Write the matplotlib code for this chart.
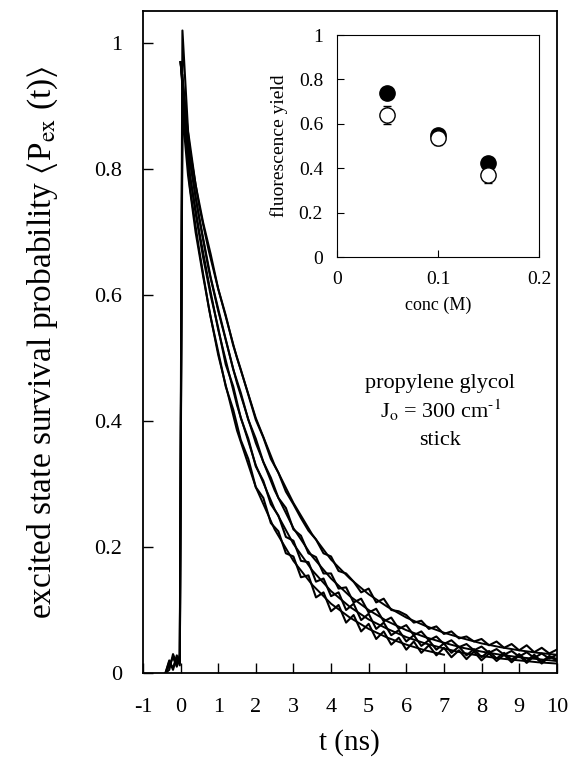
import numpy as np
import matplotlib
matplotlib.use("Agg")
import matplotlib.pyplot as plt

plt.rcParams['font.family'] = ['Liberation Serif', 'DejaVu Serif']
plt.rcParams['mathtext.fontset'] = 'stix'

# fitted (smooth) decay curves, t in ns
t_fit = [0.0, 0.25, 0.5, 0.75, 1.0, 1.5, 2.0, 2.5, 3.0, 3.5, 4.0, 4.5, 5.0,
         5.5, 6.0, 6.5, 7.0, 7.5, 8.0, 8.5, 9.0, 9.5, 10.0]
fit_a = [0.97, 0.83, 0.74, 0.67, 0.61, 0.50, 0.405, 0.33, 0.27, 0.22, 0.18, 0.15,
         0.125, 0.105, 0.088, 0.075, 0.064, 0.055, 0.047, 0.041, 0.036, 0.032, 0.029]
fit_b = [0.97, 0.81, 0.72, 0.64, 0.575, 0.46, 0.365, 0.29, 0.23, 0.185, 0.15, 0.122,
         0.10, 0.082, 0.068, 0.057, 0.048, 0.040, 0.034, 0.029, 0.025, 0.022, 0.019]
fit_c = [0.97, 0.79, 0.70, 0.62, 0.545, 0.425, 0.33, 0.26, 0.205, 0.163, 0.13, 0.105,
         0.085, 0.07, 0.057, 0.047, 0.039, 0.032, 0.027, 0.023, 0.020, 0.017, 0.015]
fit_d = [0.97, 0.77, 0.67, 0.58, 0.505, 0.385, 0.295, 0.228, 0.178, 0.14, 0.11, 0.088,
         0.07, 0.056, 0.045, 0.036, 0.029]

# measured (noisy) decays
t_data = [-0.4, -0.3, -0.2, -0.1, -0.02, 0.05,
          0.2, 0.4, 0.6, 0.8, 1.0, 1.2, 1.4, 1.6, 1.8, 2.0,
          2.2, 2.4, 2.6, 2.8, 3.0, 3.2, 3.4, 3.6, 3.8, 4.0,
          4.2, 4.4, 4.6, 4.8, 5.0, 5.2, 5.4, 5.6, 5.8, 6.0,
          6.2, 6.4, 6.6, 6.8, 7.0, 7.2, 7.4, 7.6, 7.8, 8.0,
          8.2, 8.4, 8.6, 8.8, 9.0, 9.2, 9.4, 9.6, 9.8, 10.0]
data_a = [0.0, 0.012, 0.025, 0.01, 0.03, 1.02,
          0.86, 0.775, 0.715, 0.665, 0.61, 0.568, 0.52, 0.482, 0.442, 0.402,
          0.374, 0.34, 0.318, 0.288, 0.268, 0.246, 0.226, 0.212, 0.19, 0.185,
          0.162, 0.158, 0.145, 0.128, 0.134, 0.112, 0.118, 0.1, 0.098, 0.092,
          0.08, 0.083, 0.07, 0.074, 0.062, 0.066, 0.055, 0.058, 0.05, 0.054,
          0.044, 0.05, 0.04, 0.046, 0.036, 0.044, 0.033, 0.04, 0.031, 0.037]
data_b = [0.0, 0.02, 0.005, 0.028, 0.015, 0.95,
          0.84, 0.755, 0.69, 0.628, 0.578, 0.53, 0.482, 0.445, 0.402, 0.372,
          0.335, 0.31, 0.278, 0.262, 0.228, 0.218, 0.19, 0.184, 0.158, 0.158,
          0.134, 0.136, 0.112, 0.118, 0.096, 0.102, 0.082, 0.088, 0.07, 0.076,
          0.06, 0.066, 0.052, 0.058, 0.046, 0.052, 0.041, 0.046, 0.036, 0.042,
          0.032, 0.038, 0.029, 0.035, 0.026, 0.033, 0.024, 0.031, 0.023, 0.029]
data_c = [0.0, 0.005, 0.03, 0.015, 0.02, 0.92,
          0.81, 0.73, 0.66, 0.6, 0.548, 0.49, 0.455, 0.405, 0.372, 0.328,
          0.305, 0.268, 0.25, 0.216, 0.21, 0.178, 0.176, 0.145, 0.15, 0.122,
          0.128, 0.1, 0.11, 0.084, 0.094, 0.07, 0.08, 0.06, 0.068, 0.05,
          0.06, 0.043, 0.052, 0.037, 0.047, 0.032, 0.042, 0.028, 0.038, 0.025,
          0.035, 0.023, 0.032, 0.021, 0.03, 0.019, 0.029, 0.018, 0.027, 0.022]
data_d = [0.0, 0.018, 0.008, 0.025, 0.012, 0.89,
          0.79, 0.70, 0.63, 0.565, 0.51, 0.455, 0.418, 0.37, 0.34, 0.295,
          0.278, 0.238, 0.225, 0.19, 0.185, 0.152, 0.155, 0.12, 0.128, 0.098,
          0.108, 0.08, 0.092, 0.066, 0.078, 0.054, 0.066, 0.045, 0.056, 0.037,
          0.05, 0.032, 0.044, 0.028, 0.04, 0.025, 0.036, 0.022, 0.034, 0.02,
          0.031, 0.019, 0.029, 0.017, 0.028, 0.016, 0.027, 0.015, 0.026, 0.02]

# inset: fluorescence yield vs concentration
conc = [0.05, 0.10, 0.15]
yield_filled = [0.74, 0.55, 0.425]
yield_open = [0.64, 0.535, 0.37]
yield_open_err = [0.04, 0.03, 0.035]

fig = plt.figure(figsize=(5.74, 7.62), dpi=100)
ax = fig.add_axes([0.249, 0.1168, 0.721, 0.8688])

for y in (data_a, data_b, data_c, data_d):
    ax.plot(t_data, y, color='black', lw=1.5)
ax.plot(t_fit, fit_a, color='black', lw=1.4)
ax.plot(t_fit, fit_b, color='black', lw=1.4)
ax.plot(t_fit, fit_c, color='black', lw=1.4)
ax.plot(t_fit[:len(fit_d)], fit_d, color='black', lw=1.4)

ax.set_xlim(-1, 10)
ax.set_ylim(0, 1.051)
ax.set_xticks(range(-1, 11))
ax.set_xticklabels([str(v) for v in range(-1, 11)])
ax.set_yticks([0, 0.2, 0.4, 0.6, 0.8, 1.0])
ax.set_yticklabels(['0', '0.2', '0.4', '0.6', '0.8', '1'])
ax.tick_params(direction='in', length=7, width=1, labelsize=16)
ax.tick_params(axis='y', pad=15)
ax.tick_params(axis='x', pad=18)
for s in ax.spines.values():
    s.set_linewidth(1.3)
ax.set_xlabel('t (ns)', fontsize=21, labelpad=9)
ax.set_ylabel(r'excited state survival probability $\langle$P$_{\rm ex}$ (t)$\rangle$',
              fontsize=24)
ax.yaxis.set_label_coords(-0.2, 0.5)

ax.text(6.9, 0.452, 'propylene glycol', fontsize=16, ha='center')
ax.text(6.9, 0.405, r'J$_{\rm o}$ = 300 cm$^{\text{-1}}$', fontsize=16, ha='center')
ax.text(6.9, 0.362, 'stick', fontsize=16, ha='center')

ins = fig.add_axes([0.587, 0.6627, 0.352, 0.2913])
ins.plot(conc, yield_filled, 'o', color='black', ms=11)
ins.errorbar(conc, yield_open, yerr=yield_open_err, fmt='o', mfc='white',
             mec='black', ecolor='black', ms=11, capsize=3, elinewidth=1)
ins.set_xlim(0, 0.2)
ins.set_ylim(0, 1)
ins.set_xticks([0, 0.1, 0.2])
ins.set_xticklabels(['0', '0.1', '0.2'])
ins.set_yticks([0, 0.2, 0.4, 0.6, 0.8, 1.0])
ins.set_yticklabels(['0', '0.2', '0.4', '0.6', '0.8', '1'])
ins.tick_params(direction='in', length=5, labelsize=14, pad=10)
ins.set_xlabel('conc (M)', fontsize=13, labelpad=6)
ins.set_ylabel('fluorescence yield', fontsize=14, labelpad=8)

fig.savefig('out.png', dpi=100)
